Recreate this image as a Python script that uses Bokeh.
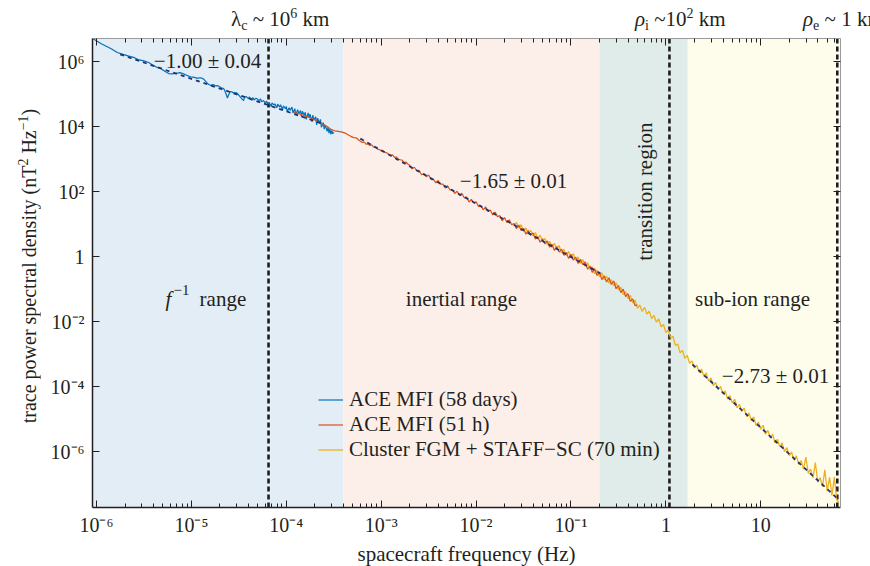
import numpy as np
from bokeh.plotting import figure
from bokeh.layouts import column, row
from bokeh.models import (LogAxis, FixedTicker, BoxAnnotation, Span, Label, Legend,
                          LegendItem, CustomJSTickFormatter, Range1d, Div)
from bokeh.embed import file_html
from bokeh.resources import INLINE

FONT = "Liberation Serif"
INK = "#231f20"

# ---------------- data (log10 values) ----------------
ace58_points = [  # ACE MFI (58 days): (log10 f [Hz], log10 PSD [nT^2/Hz])
    (-6.04, 6.71), (-5.95, 6.55), (-5.85, 6.40), (-5.78, 6.28), (-5.72, 6.22), (-5.66, 6.17),
    (-5.60, 6.12), (-5.55, 6.05), (-5.50, 6.02), (-5.45, 5.97), (-5.40, 5.88), (-5.36, 5.82),
    (-5.32, 5.78), (-5.28, 5.70), (-5.24, 5.63), (-5.20, 5.62), (-5.16, 5.64), (-5.12, 5.66),
    (-5.09, 5.63), (-5.05, 5.58), (-5.01, 5.53), (-4.98, 5.52), (-4.94, 5.49), (-4.90, 5.50),
    (-4.87, 5.46), (-4.84, 5.36), (-4.82, 5.30), (-4.80, 5.27), (-4.77, 5.29), (-4.74, 5.25),
    (-4.72, 5.26), (-4.69, 5.20), (-4.66, 5.17), (-4.64, 5.05), (-4.62, 4.88), (-4.61, 4.96),
    (-4.59, 5.08), (-4.57, 5.06), (-4.55, 5.03), (-4.53, 5.05), (-4.51, 5.00), (-4.49, 4.93),
    (-4.47, 4.86), (-4.45, 4.80), (-4.44, 4.90), (-4.42, 4.92), (-4.40, 4.86), (-4.39, 4.91),
    (-4.37, 4.85), (-4.35, 4.89), (-4.34, 4.82), (-4.32, 4.87), (-4.30, 4.84), (-4.29, 4.79),
    (-4.27, 4.85), (-4.26, 4.76), (-4.24, 4.80), (-4.22, 4.72), (-4.21, 4.78), (-4.19, 4.70),
    (-4.18, 4.74), (-4.16, 4.62), (-4.15, 4.73), (-4.13, 4.66), (-4.12, 4.70), (-4.10, 4.58),
    (-4.09, 4.69), (-4.07, 4.60), (-4.06, 4.67), (-4.04, 4.52), (-4.03, 4.64), (-4.01, 4.55),
    (-4.00, 4.62), (-3.99, 4.46), (-3.97, 4.58), (-3.96, 4.50), (-3.94, 4.60), (-3.93, 4.42),
    (-3.91, 4.55), (-3.90, 4.36), (-3.88, 4.52), (-3.87, 4.40), (-3.85, 4.49), (-3.84, 4.30),
    (-3.83, 4.47), (-3.81, 4.35), (-3.80, 4.44), (-3.79, 4.22), (-3.77, 4.42), (-3.76, 4.28),
    (-3.75, 4.38), (-3.73, 4.15), (-3.72, 4.35), (-3.71, 4.20), (-3.69, 4.30), (-3.68, 4.05),
    (-3.67, 4.26), (-3.65, 4.10), (-3.64, 4.22), (-3.63, 3.98), (-3.61, 4.12), (-3.60, 3.92),
    (-3.59, 4.05), (-3.57, 3.85), (-3.56, 3.98), (-3.55, 3.80), (-3.54, 3.92), (-3.53, 3.76),
    (-3.52, 3.88), (-3.51, 3.78), (-3.50, 3.82),
]

ace51_points = [  # ACE MFI (51 h)
    (-3.92, 4.43), (-3.87, 4.40), (-3.82, 4.35), (-3.77, 4.30), (-3.72, 4.24), (-3.67, 4.16),
    (-3.62, 4.09), (-3.57, 4.00), (-3.53, 3.92), (-3.49, 3.87), (-3.45, 3.85), (-3.41, 3.83),
    (-3.38, 3.80), (-3.35, 3.75), (-3.32, 3.70), (-3.29, 3.66), (-3.26, 3.65), (-3.23, 3.57),
    (-3.20, 3.51), (-3.18, 3.53), (-3.16, 3.46), (-3.14, 3.47), (-3.12, 3.42), (-3.10, 3.44),
    (-3.08, 3.37), (-3.06, 3.36), (-3.04, 3.31), (-3.02, 3.29), (-3.00, 3.26), (-2.98, 3.25),
    (-2.96, 3.21), (-2.94, 3.19), (-2.92, 3.14), (-2.90, 3.12), (-2.88, 3.13), (-2.86, 3.05),
    (-2.84, 3.07), (-2.82, 3.00), (-2.80, 2.98), (-2.78, 2.97), (-2.76, 2.90), (-2.74, 2.91),
    (-2.72, 2.85), (-2.700, 2.81), (-2.675, 2.70), (-2.650, 2.75), (-2.625, 2.64),
    (-2.600, 2.65), (-2.575, 2.52), (-2.550, 2.55), (-2.525, 2.46), (-2.500, 2.51),
    (-2.475, 2.37), (-2.450, 2.38), (-2.425, 2.27), (-2.400, 2.34), (-2.375, 2.23),
    (-2.350, 2.23), (-2.325, 2.11), (-2.300, 2.18), (-2.275, 2.05), (-2.250, 2.06),
    (-2.225, 1.94), (-2.200, 2.01), (-2.175, 1.88), (-2.150, 1.95), (-2.125, 1.81),
    (-2.100, 1.83), (-2.075, 1.68), (-2.050, 1.76), (-2.025, 1.65), (-2.000, 1.69),
    (-1.975, 1.54), (-1.950, 1.58), (-1.925, 1.44), (-1.900, 1.53), (-1.875, 1.39),
    (-1.850, 1.43), (-1.825, 1.28), (-1.800, 1.37), (-1.775, 1.23), (-1.750, 1.26),
    (-1.725, 1.10), (-1.700, 1.20), (-1.675, 1.05), (-1.650, 1.13), (-1.625, 0.98),
    (-1.600, 1.02), (-1.575, 0.86), (-1.550, 0.97), (-1.525, 0.80), (-1.500, 0.87),
    (-1.475, 0.69), (-1.450, 0.80), (-1.425, 0.65), (-1.400, 0.73), (-1.375, 0.54),
    (-1.350, 0.61), (-1.325, 0.44), (-1.300, 0.55), (-1.275, 0.39), (-1.250, 0.48),
    (-1.225, 0.29), (-1.200, 0.38), (-1.175, 0.19), (-1.150, 0.31), (-1.125, 0.14),
    (-1.100, 0.23), (-1.075, 0.04), (-1.050, 0.13), (-1.025, -0.06), (-1.000, 0.07),
    (-0.975, -0.11), (-0.950, -0.02), (-0.925, -0.21), (-0.900, -0.08), (-0.875, -0.25),
    (-0.850, -0.16), (-0.825, -0.39), (-0.800, -0.29), (-0.775, -0.49), (-0.750, -0.37),
    (-0.725, -0.58), (-0.700, -0.48), (-0.675, -0.71), (-0.650, -0.59), (-0.625, -0.78),
    (-0.600, -0.65), (-0.575, -0.86), (-0.550, -0.75), (-0.525, -0.99), (-0.500, -0.89),
    (-0.475, -1.11), (-0.450, -1.00), (-0.425, -1.23), (-0.400, -1.14), (-0.375, -1.38),
    (-0.350, -1.30), (-0.325, -1.51), (-0.300, -1.48),
]

cluster_points = [  # Cluster FGM + STAFF-SC (70 min)
    (-1.600, 0.96), (-1.575, 1.05), (-1.550, 0.89), (-1.525, 0.98), (-1.500, 0.79),
    (-1.475, 0.88), (-1.450, 0.70), (-1.425, 0.81), (-1.400, 0.64), (-1.375, 0.74),
    (-1.350, 0.54), (-1.325, 0.66), (-1.300, 0.47), (-1.275, 0.56), (-1.250, 0.37),
    (-1.225, 0.47), (-1.200, 0.28), (-1.175, 0.41), (-1.150, 0.22), (-1.125, 0.34),
    (-1.100, 0.12), (-1.075, 0.23), (-1.050, 0.03), (-1.025, 0.16), (-1.000, -0.03),
    (-0.975, 0.09), (-0.950, -0.12), (-0.925, -0.01), (-0.900, -0.21), (-0.875, -0.09),
    (-0.850, -0.30), (-0.825, -0.19), (-0.800, -0.40), (-0.775, -0.31), (-0.750, -0.53),
    (-0.725, -0.42), (-0.700, -0.62), (-0.675, -0.50), (-0.650, -0.71), (-0.625, -0.60),
    (-0.600, -0.82), (-0.575, -0.71), (-0.550, -0.90), (-0.525, -0.80), (-0.500, -1.02),
    (-0.475, -0.94), (-0.450, -1.17), (-0.425, -1.08), (-0.400, -1.29), (-0.375, -1.19),
    (-0.350, -1.42), (-0.325, -1.34), (-0.300, -1.59), (-0.275, -1.49), (-0.250, -1.69),
    (-0.225, -1.56), (-0.200, -1.77), (-0.175, -1.68), (-0.150, -1.91), (-0.125, -1.81),
    (-0.100, -2.02), (-0.075, -1.92), (-0.050, -2.16), (-0.025, -2.09), (0.000, -2.34),
    (0.025, -2.26), (0.050, -2.51), (0.075, -2.45), (0.100, -2.73), (0.125, -2.69),
    (0.150, -2.96), (0.175, -2.89), (0.200, -3.13), (0.225, -3.04), (0.250, -3.28),
    (0.275, -3.21), (0.300, -3.43), (0.325, -3.34), (0.350, -3.56), (0.375, -3.46),
    (0.400, -3.68), (0.425, -3.58), (0.450, -3.83), (0.475, -3.73), (0.500, -3.97),
    (0.525, -3.87), (0.550, -4.10), (0.575, -3.99), (0.600, -4.22), (0.625, -4.13),
    (0.650, -4.38), (0.675, -4.28), (0.700, -4.50), (0.725, -4.39), (0.750, -4.65),
    (0.775, -4.55), (0.800, -4.76), (0.825, -4.66), (0.850, -4.92), (0.875, -4.81),
    (0.900, -5.04), (0.925, -4.93), (0.950, -5.19), (0.975, -5.09), (1.000, -5.31),
    (1.025, -5.19), (1.050, -5.46), (1.075, -5.35), (1.100, -5.58), (1.125, -5.47),
    (1.150, -5.73), (1.175, -5.62), (1.200, -5.85), (1.225, -5.73), (1.250, -6.00),
    (1.275, -5.88), (1.300, -6.12), (1.325, -6.02), (1.350, -6.27), (1.375, -6.13),
    (1.400, -6.39), (1.425, -6.28), (1.450, -6.54), (1.475, -6.17), (1.500, -6.66),
    (1.525, -6.54), (1.550, -6.81), (1.575, -6.34), (1.600, -6.93), (1.625, -6.80),
    (1.650, -7.08), (1.675, -6.56), (1.700, -7.22), (1.725, -6.79), (1.750, -7.35),
    (1.775, -6.78), (1.800, -7.49), (1.825, -7.56),
]

# power-law fits (log10 f, log10 PSD) end points
fit_f1_logf, fit_f1_logpsd = [-5.75, -3.60], [6.22, 4.07]
fit_inertial_logf, fit_inertial_logpsd = [-3.22, -0.69], [3.63, -0.52]
fit_subion_logf, fit_subion_logpsd = [0.28, 1.81], [-3.32, -7.45]
fit_labels = ["\u22121.00 \u00b1 0.04", "\u22121.65 \u00b1 0.01", "\u22122.73 \u00b1 0.01"]

# range boundaries (Hz) and characteristic scale frequencies (Hz)
range_edges = [4.0e-4, 0.20, 1.70]
range_colors = ["#e2edf6", "#fcefe9", "#e0ece9", "#fefdec"]
scale_freqs = [6.5e-5, 1.09, 64.0]
scale_labels_html = ["\u03bb<sub>c</sub> ~ 10<sup>6</sup> km",
                     "<i>\u03c1</i><sub>i</sub> ~10<sup>2</sup> km",
                     "<i>\u03c1</i><sub>e</sub> ~ 1 km"]

series_names = ["ACE MFI (58 days)", "ACE MFI (51 h)", "Cluster FGM + STAFF\u2212SC (70 min)"]
series_colors = ["#0072bd", "#d95319", "#edb120"]

x_tick_vals = [1e-6, 1e-5, 1e-4, 1e-3, 1e-2, 1e-1, 1.0, 10.0]
x_tick_labels = ["10\u207b\u2076", "10\u207b\u2075", "10\u207b\u2074", "10\u207b\u00b3",
                 "10\u207b\u00b2", "10\u207b\u00b9", "1", "10"]
y_tick_vals = [1e-6, 1e-4, 1e-2, 1.0, 1e2, 1e4, 1e6]
y_tick_labels = ["10\u207b\u2076", "10\u207b\u2074", "10\u207b\u00b2", "1",
                 "10\u00b2", "10\u2074", "10\u2076"]
y_title_html = "trace power spectral density (nT<sup>2</sup> Hz<sup>\u22121</sup>)"
x_title = "spacecraft frequency (Hz)"


def unpack(points):
    f = np.array([10.0 ** a for a, _ in points])
    s = np.array([10.0 ** b for _, b in points])
    return f, s


def pw(vals):
    return [10.0 ** v for v in vals]


# ---------------- figure ----------------
p = figure(frame_width=748, frame_height=469, x_axis_type="log", y_axis_type="log",
           x_range=Range1d(10 ** -6.042, 10 ** 1.84), y_range=Range1d(10 ** -7.72, 10 ** 6.71),
           output_backend="svg", toolbar_location=None,
           min_border_left=52, min_border_right=30, min_border_top=4, min_border_bottom=59,
           background_fill_color="white", border_fill_color="white", margin=0)
p.outline_line_color = None
p.xgrid.visible = False
p.ygrid.visible = False

# shaded ranges
edges = [None] + range_edges + [None]
for i, c in enumerate(range_colors):
    p.add_layout(BoxAnnotation(left=edges[i], right=edges[i + 1], fill_color=c, fill_alpha=1.0,
                               line_color=None, level="underlay"))

for fq in scale_freqs:
    p.add_layout(Span(location=fq, dimension="height", line_color="#1e1e1e", line_width=2.6,
                      line_dash="5 3", level="underlay"))

# spectra
f58, s58 = unpack(ace58_points)
f51, s51 = unpack(ace51_points)
fcl, scl = unpack(cluster_points)
r58 = p.line(f58, s58, line_color=series_colors[0], line_width=1.2)
rcl = p.line(fcl, scl, line_color=series_colors[2], line_width=1.3)
r51 = p.line(f51, s51, line_color=series_colors[1], line_width=1.2)

# fits
for lf, lp in [(fit_f1_logf, fit_f1_logpsd), (fit_inertial_logf, fit_inertial_logpsd),
               (fit_subion_logf, fit_subion_logpsd)]:
    p.line(pw(lf), pw(lp), line_color="#22336b", line_width=1.8, line_dash="4 4")

# ---------------- axes ----------------
minor = [m * 10.0 ** e for e in range(-7, 2) for m in range(2, 10)]


def fmt(vals, labels):
    return CustomJSTickFormatter(args=dict(vals=vals, labels=labels), code="""
        let best = 0, bd = Infinity;
        for (let i = 0; i < vals.length; i++) {
            const d = Math.abs(Math.log10(tick) - Math.log10(vals[i]));
            if (d < bd) { bd = d; best = i; }
        }
        return bd < 0.01 ? labels[best] : "";
    """)


def style_axis(ax, color, width):
    ax.axis_line_color = color
    ax.axis_line_width = width
    ax.major_tick_in = 7
    ax.major_tick_out = 0
    ax.minor_tick_in = 4
    ax.minor_tick_out = 0
    ax.major_tick_line_color = INK
    ax.minor_tick_line_color = INK
    ax.major_label_text_font = FONT
    ax.major_label_text_font_size = "20px"
    ax.major_label_text_color = INK
    ax.axis_label_text_font = FONT
    ax.axis_label_text_font_size = "21px"
    ax.axis_label_text_font_style = "normal"
    ax.axis_label_text_color = INK


xa = p.xaxis[0]
xa.ticker = FixedTicker(ticks=x_tick_vals, minor_ticks=minor)
xa.formatter = fmt(x_tick_vals, x_tick_labels)
style_axis(xa, INK, 1.5)
xa.axis_label = x_title
xa.major_label_standoff = 6
xa.axis_label_standoff = 3

ya = p.yaxis[0]
ya.ticker = FixedTicker(ticks=y_tick_vals, minor_ticks=[])
ya.formatter = fmt(y_tick_vals, y_tick_labels)
style_axis(ya, INK, 1.5)
ya.major_label_standoff = 8

blank = CustomJSTickFormatter(code="return ' ';")

top = LogAxis(ticker=FixedTicker(ticks=x_tick_vals, minor_ticks=minor), formatter=blank)
style_axis(top, "#9a9a9a", 1.0)
top.major_label_text_font_size = "1px"
top.major_label_standoff = 0
p.add_layout(top, "above")

right = LogAxis(ticker=FixedTicker(ticks=y_tick_vals, minor_ticks=[]), formatter=blank)
style_axis(right, "#9a9a9a", 1.0)
right.major_label_text_font_size = "1px"
right.major_label_standoff = 0
p.add_layout(right, "right")


# ---------------- text annotations ----------------
def lab(x, y, text, size=21, dx=0, dy=0, align="left", baseline="alphabetic",
        style="normal", angle=0.0):
    p.add_layout(Label(x=x, y=y, text=text, x_offset=dx, y_offset=dy, text_font=FONT,
                       text_font_size=f"{size}px", text_font_style=style, text_align=align,
                       text_baseline=baseline, text_color=INK, angle=angle))


# fit slopes
lab(10 ** -4.83, 10 ** 6.03, fit_labels[0], align="center", baseline="middle")
lab(10 ** -1.606, 10 ** 2.34, fit_labels[1], align="center", baseline="middle")
lab(10 ** 1.155, 10 ** -3.66, fit_labels[2], align="center", baseline="middle")

# range names
ry = 10 ** -1.30
lab(10 ** -4.85, ry, "f", dx=-40, style="italic")
lab(10 ** -4.85, ry, "\u22121", size=15, dx=-32, dy=9)
lab(10 ** -4.85, ry, "range", dx=-6)
lab(10 ** -2.154, ry, "inertial range", align="center")
lab(10 ** 0.913, ry, "sub-ion range", align="center")
lab(10 ** -0.215, 10 ** 2.0, "transition region", align="center", baseline="middle",
    angle=np.pi / 2)

# ---------------- legend ----------------
legend = Legend(items=[LegendItem(label=series_names[0], renderers=[r58]),
                       LegendItem(label=series_names[1], renderers=[r51]),
                       LegendItem(label=series_names[2], renderers=[rcl])],
                location=(226, 45), orientation="vertical", background_fill_alpha=0.0,
                border_line_alpha=0.0, padding=0, margin=0, spacing=0, glyph_width=25,
                glyph_height=21, label_height=21, label_standoff=6, label_text_font=FONT,
                label_text_font_size="21px", label_text_color=INK,
                label_text_baseline="middle")
p.add_layout(legend)

# ---------------- HTML texts outside the frame ----------------
SUBSUP = ('<style>sub{font-size:14px;vertical-align:-4px;line-height:0}'
          'sup{font-size:14px;vertical-align:8px;line-height:0}</style>')

label_left = [231, 635, 803]
spans = "".join(
    f'<span style="position:absolute;left:{lx}px;top:9px;white-space:nowrap">{t}</span>'
    for lx, t in zip(label_left, scale_labels_html))
header_html = (
    '<div style="position:relative;width:870px;height:34px;overflow:hidden;'
    f"font-family:'{FONT}';font-size:21px;line-height:21px;color:{INK}\">"
    + SUBSUP + spans + '</div>')
header = Div(text=header_html, width=870, height=34, margin=0)

ytitle_html = (
    '<div style="position:relative;width:40px;height:532px;">' + SUBSUP +
    '<div style="position:absolute;left:29px;top:232px;'
    'transform:translate(-50%,-50%) rotate(-90deg);white-space:nowrap;'
    f"font-family:'{FONT}';font-size:20px;line-height:20px;color:{INK}\">"
    + y_title_html + '</div></div>')
ytitle = Div(text=ytitle_html, width=40, height=532, margin=0)

layout = column(header, row(ytitle, p, spacing=0, margin=0), spacing=0, margin=0)
open("out.html", "w").write(file_html(layout, INLINE))
